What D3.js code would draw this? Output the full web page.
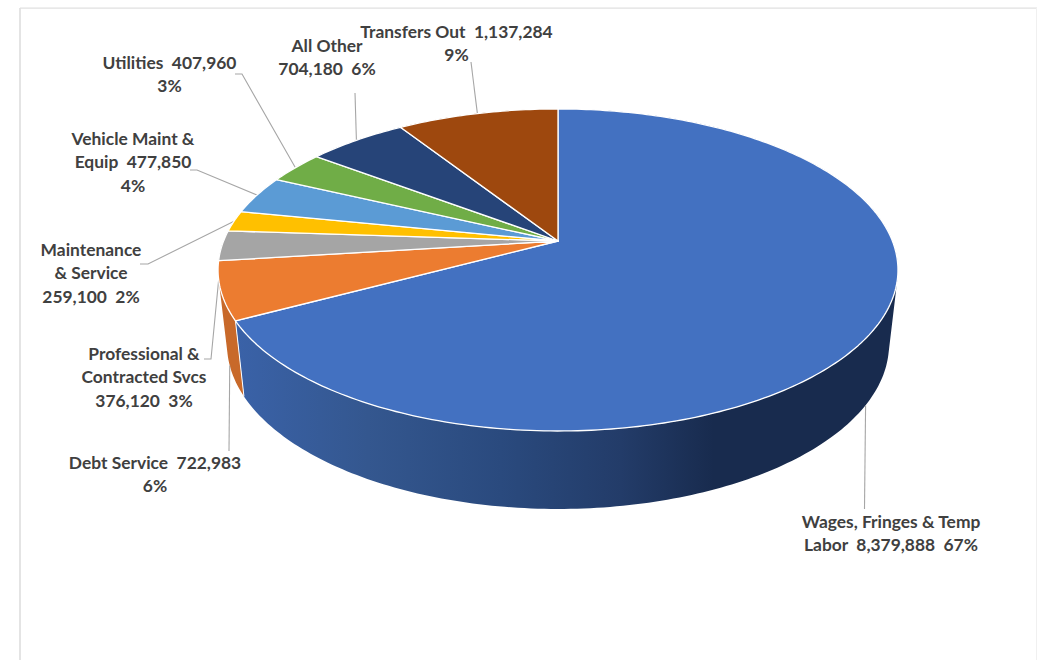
<!DOCTYPE html>
<html>
<head>
<meta charset="utf-8">
<script src="https://cdnjs.cloudflare.com/ajax/libs/d3/7.8.5/d3.min.js"></script>
<style>
html,body{margin:0;padding:0;background:#fff;overflow:hidden}
text{font-family:Lato,"Open Sans",sans-serif;font-weight:700;font-size:17.4px;fill:#404040;white-space:pre}
</style>
</head>
<body>
<svg id="c" width="1037" height="660"></svg>
<script>
// Data
const categories = ["Wages, Fringes & Temp Labor","Debt Service","Professional & Contracted Svcs","Maintenance & Service","Vehicle Maint & Equip","Utilities","All Other","Transfers Out"];
const values = [8379888,722983,376120,259100,477850,407960,704180,1137284];
const percentLabels = ["67%","6%","3%","2%","4%","3%","6%","9%"];
const labelLines = [
  ["Wages, Fringes & Temp","Labor  8,379,888  67%"],
  ["Debt Service  722,983","6%"],
  ["Professional &","Contracted Svcs","376,120  3%"],
  ["Maintenance","& Service","259,100  2%"],
  ["Vehicle Maint &","Equip  477,850","4%"],
  ["Utilities  407,960","3%"],
  ["All Other","704,180  6%"],
  ["Transfers Out  1,137,284","9%"]
];

// Layout (separate from the data)
const colors = ["#4371C1","#EC7C30","#A5A5A5","#FFC000","#5B9BD5","#70AD47","#264478","#9E480E"];
const wallColors = [null,"#C8692A","#8C8C8C","#D9A300","#4D84B5","#5F933C","#203A66","#863D0C"];
const labelPos = [[891,528],[155,469],[144,360],[91,256],[133,145],[169.5,69],[327,52],[456.5,38]];
const leaderKnee = [[864.5,509],[229,451],[[204,359],[211,359]],[[140,264],[148,264]],[[190,170],[197,170]],[[235,74],[242,74]],[355,93],[471,62]];
const onWall = [true,true,false,false,false,false,false,false];
const lineH = 23.4;

// Perspective projection of a disc: top face and bottom face
const topFace = {cx:558, ay:241, rx:334.4, ry:155.8, k:0.18};
const botFace = {cx:558, ay:314.8, rx:325.6, ry:159.2, k:0.18};
function proj(f,a){
  const u=Math.sin(a), v=-Math.cos(a), w=1-f.k*v;
  return [f.cx+f.rx*u/w, f.ay+f.ry*v/w];
}
const svg=d3.select("#c");
const line=d3.line();
const arcs=d3.pie().sort(null).value(d=>d)(values);
const samples=(a0,a1)=>{const n=Math.max(4,Math.ceil((a1-a0)*60));return d3.range(n+1).map(i=>a0+(a1-a0)*i/n);};

// Frame
svg.append("path").attr("d","M20 660V8").attr("stroke","#e4e4e4").attr("stroke-width",2).attr("fill","none");
svg.append("path").attr("d","M20 8.2H1037").attr("stroke","#e0e0e0").attr("stroke-width",1.3).attr("fill","none");
svg.append("path").attr("d","M1036.5 8V660").attr("stroke","#f0f0f0").attr("stroke-width",1).attr("fill","none");

// Wall gradient
const g=svg.append("defs").append("linearGradient").attr("id","wall").attr("gradientUnits","userSpaceOnUse")
  .attr("x1",235).attr("x2",900).attr("y1",0).attr("y2",0);
[[0,"#3A62A8"],[0.2,"#34578F"],[0.4,"#2A4A7E"],[0.58,"#233C69"],[0.72,"#182B4E"],[1,"#182B4E"]]
  .forEach(s=>g.append("stop").attr("offset",s[0]).attr("stop-color",s[1]));

// Walls (back to front): swept quads with one winding so the silhouette is complete
svg.append("g").selectAll("path").data(arcs.map((d,i)=>({d,i})).reverse()).join("path")
  .attr("d",({d})=>{
    const t=samples(d.startAngle,d.endAngle);
    return d3.pairs(t).map(([a,b])=>{
      const q=[proj(topFace,a),proj(topFace,b),proj(botFace,b),proj(botFace,a)];
      if(d3.polygonArea(q)<0) q.reverse();
      return line(q)+"Z";
    }).join("");
  })
  .attr("fill",({i})=>i===0?"url(#wall)":wallColors[i]);

// Edge between the two visible walls
svg.append("path").attr("d",line([proj(topFace,arcs[0].endAngle),proj(botFace,arcs[0].endAngle)]))
  .attr("stroke","#fff").attr("stroke-width",1).attr("fill","none");

// Leaders
svg.append("g").selectAll("path").data(arcs).join("path")
  .attr("d",(d,i)=>{
    const m=(d.startAngle+d.endAngle)/2, end=proj(onWall[i]?botFace:topFace,m), k=leaderKnee[i];
    const pts=Array.isArray(k[0])?k.concat([end]):[k,end];
    return line(pts);
  })
  .attr("fill","none").attr("stroke","#A6A6A6").attr("stroke-width",1.1);

// Top face
svg.append("g").selectAll("path").data(arcs).join("path")
  .attr("d",d=>line([[topFace.cx,topFace.ay]].concat(samples(d.startAngle,d.endAngle).map(a=>proj(topFace,a))))+"Z")
  .attr("fill",(d,i)=>colors[i]).attr("stroke","#fff").attr("stroke-width",1.3).attr("stroke-linejoin","round");

// Labels
svg.append("g").selectAll("text").data(labelLines).join("text")
  .attr("text-anchor","middle")
  .attr("transform",(d,i)=>`translate(${labelPos[i][0]},${labelPos[i][1]})`)
  .selectAll("tspan").data(d=>d).join("tspan")
  .attr("x",0).attr("y",(d,i)=>i*lineH).text(d=>d);
</script>
</body>
</html>
